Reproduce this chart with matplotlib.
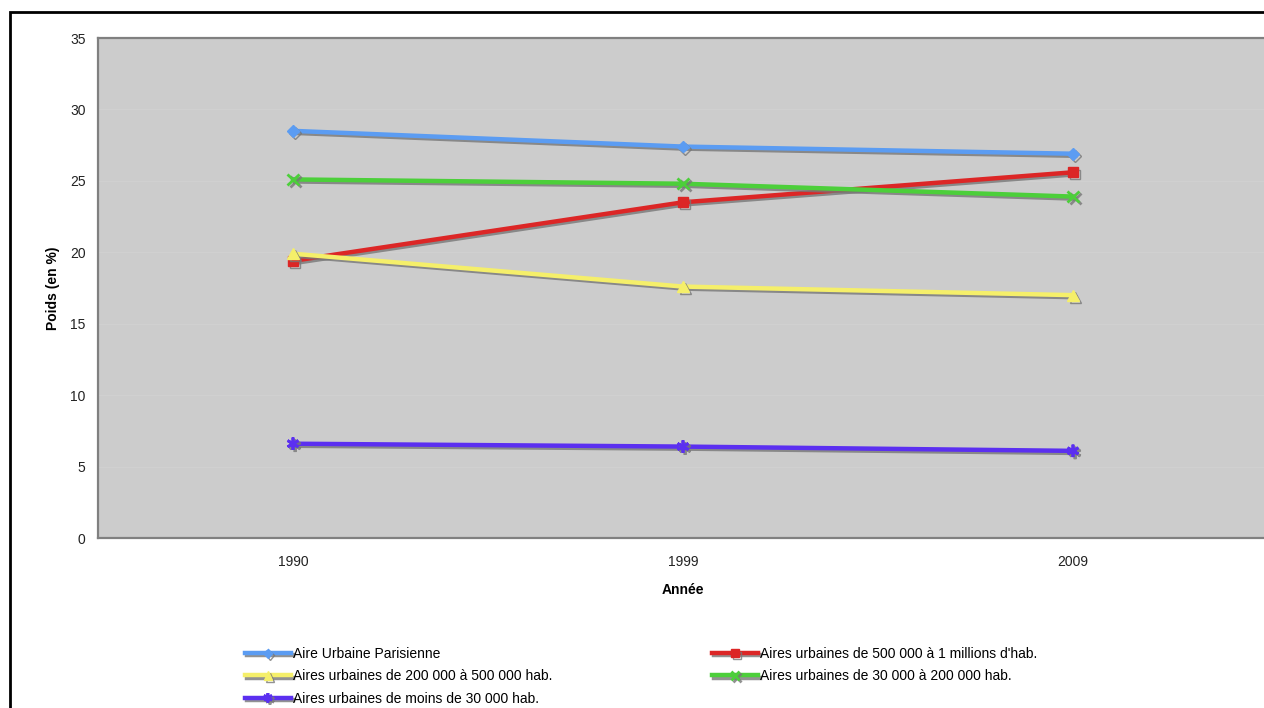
import matplotlib
matplotlib.use("Agg")
import matplotlib.pyplot as plt
import matplotlib.patheffects as pe
from matplotlib.patches import Rectangle

plt.rcParams["font.family"] = ["Liberation Sans", "DejaVu Sans"]

years = ["1990", "1999", "2009"]
parisValues = [28.5, 27.4, 26.9]
bigValues = [19.4, 23.5, 25.6]
midValues = [19.9, 17.6, 17.0]
smallValues = [25.1, 24.8, 23.9]
tinyValues = [6.6, 6.4, 6.1]

seriesLabels = [
    "Aire Urbaine Parisienne",
    "Aires urbaines de 500 000 à 1 millions d'hab.",
    "Aires urbaines de 200 000 à 500 000 hab.",
    "Aires urbaines de 30 000 à 200 000 hab.",
    "Aires urbaines de moins de 30 000 hab.",
]
yTicks = [0, 5, 10, 15, 20, 25, 30, 35]

fig = plt.figure(figsize=(12.64, 7.08), dpi=100)
fig.patch.set_facecolor("white")

# outer frame, cut by the image edge on the right and bottom
fig.patches.append(
    Rectangle((10 / 1264, -0.05), 1.2, 1 - 12 / 708 + 0.05, transform=fig.transFigure,
              fill=False, edgecolor="black", linewidth=2.0, zorder=0)
)

axis = fig.add_axes([98 / 1264, 1 - 538 / 708, 1170 / 1264, 500 / 708])
axis.set_facecolor("#cccccc")

xPositions = list(range(len(years)))
shadow = [pe.SimpleLineShadow(offset=(1.5, -1.5), shadow_color="#777777", alpha=0.8), pe.Normal()]

styleList = [
    (parisValues, "#5b9cf2", "D", 6),
    (bigValues, "#dc2626", "s", 7),
    (midValues, "#f5ef6a", "^", 8),
    (smallValues, "#4ccf3a", "x", 8),
    (tinyValues, "#5b2ff0", (6, 2, 0), 9),
]
handles = []
for (values, colorValue, markerValue, markerSize), labelText in zip(styleList, seriesLabels):
    (line,) = axis.plot(
        xPositions, values, color=colorValue, linewidth=3.2, marker=markerValue,
        markersize=markerSize, markeredgewidth=2.0 if markerValue in ("x", (6, 2, 0)) else 1.0,
        markeredgecolor=colorValue, label=labelText, path_effects=shadow, zorder=3,
    )
    handles.append(line)

axis.set_xlim(-0.5, 2.5)
axis.set_ylim(0, 35)
axis.set_xticks(xPositions)
axis.set_xticklabels(years)
axis.set_yticks(yTicks)
axis.tick_params(axis="both", length=0, labelsize=10, colors="#222222")
axis.tick_params(axis="x", pad=12)
axis.tick_params(axis="y", pad=9)
axis.grid(axis="y", color="#d0d0d0", linewidth=1.0)
axis.set_axisbelow(True)
for side in ["top", "left", "bottom", "right"]:
    axis.spines[side].set_color("#808080")
    axis.spines[side].set_linewidth(1.6)

axis.set_xlabel("Année", fontsize=10, fontweight="bold", labelpad=10)
axis.set_ylabel("Poids (en %)", fontsize=10, fontweight="bold", labelpad=7)

legendKw = dict(frameon=False, fontsize=10, handlelength=3.3, handletextpad=0.15,
                labelspacing=0.6, borderaxespad=0, borderpad=0, markerscale=0.75)
fig.legend([handles[0], handles[2], handles[4]], [seriesLabels[0], seriesLabels[2], seriesLabels[4]],
           loc="upper left", bbox_to_anchor=(245 / 1264, 1 - 647 / 708), **legendKw)
fig.legend([handles[1], handles[3]], [seriesLabels[1], seriesLabels[3]],
           loc="upper left", bbox_to_anchor=(712 / 1264, 1 - 647 / 708), **legendKw)

fig.savefig("out.png", dpi=100)
